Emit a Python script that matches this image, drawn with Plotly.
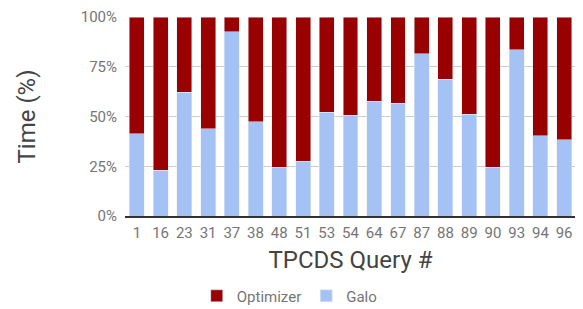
import plotly.graph_objects as go

queries = ["1", "16", "23", "31", "37", "38", "48", "51", "53", "54", "64", "67", "87", "88", "89", "90", "93", "94", "96"]
galo = [41.3, 22.9, 62.2, 43.8, 92.5, 47.3, 24.4, 27.4, 52.2, 50.7, 57.7, 56.7, 81.6, 68.7, 51.2, 24.4, 83.6, 40.3, 38.3]
optimizer = [100 - g for g in galo]
y_ticks = [0, 25, 50, 75, 100]
y_labels = ["0%", "25%", "50%", "75%", "100%"]

fig = go.Figure()
fig.add_trace(go.Bar(x=queries, y=galo, name="Galo", marker_color="#a4c2f4"))
fig.add_trace(go.Bar(x=queries, y=optimizer, name="Optimizer", marker_color="#990000"))

fig.update_layout(
    barmode="stack",
    bargap=0.37,
    width=575, height=301,
    margin=dict(l=117, r=7, t=9, b=93, autoexpand=False),
    paper_bgcolor="white", plot_bgcolor="white",
    font=dict(family="Roboto", color="#757575"),
    showlegend=True,
    legend=dict(orientation="h", x=0.49, xref="container", xanchor="center",
                y=0.043, yref="container", yanchor="middle", itemwidth=30,
                traceorder="reversed", font=dict(size=15, color="#757575")),
    xaxis=dict(type="category", tickfont=dict(size=15, color="#757575"),
               ticklabelstandoff=2,
               title=dict(text="TPCDS Query #", font=dict(size=24, color="#444444"), standoff=10),
               showline=True, linecolor="#333333", linewidth=1.5, ticks=""),
    yaxis=dict(range=[0, 100], tickvals=y_ticks, ticktext=y_labels,
               tickfont=dict(size=15, color="#757575"), ticklabeloverflow="allow",
               ticklabelstandoff=7,
               gridcolor="#cccccc", zeroline=False,
               title=dict(text="Time (%)", font=dict(size=24, color="#444444"), standoff=38)),
)
fig.write_html("out.html")
